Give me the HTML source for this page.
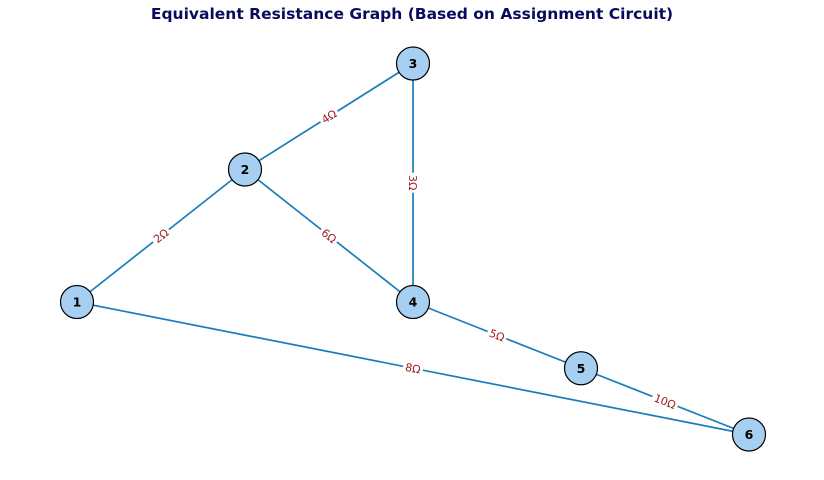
<!DOCTYPE html>
<html><head><meta charset="utf-8"><style>
body{margin:0;background:#fff;}
svg{display:block;font-family:"DejaVu Sans","Liberation Sans",sans-serif;}
</style></head><body>
<svg id="chart" width="824" height="480">
<text x="412" y="19" text-anchor="middle" font-size="15.5" font-weight="bold" fill="#0b0b5e">Equivalent Resistance Graph (Based on Assignment Circuit)</text>
<g id="edges"></g><g id="labels"></g><g id="nodes"></g>
</svg>
<script>
const nodeIds = ["1","2","3","4","5","6"];
const nodeX = [0,1,2,2,3,4];
const nodeY = [0,1,1.8,0,-0.5,-1];
const edgeFrom = [0,1,1,2,3,4,0];
const edgeTo = [1,2,3,3,4,5,5];
const edgeLabels = ["2Ω","4Ω","6Ω","3Ω","5Ω","10Ω","8Ω"];
const sx = v => 77 + v*168;
const sy = v => 302 - v*132.5;
const NS="http://www.w3.org/2000/svg";
const gE=document.getElementById('edges'),gL=document.getElementById('labels'),gN=document.getElementById('nodes');
for(let i=0;i<edgeFrom.length;i++){
  const a=edgeFrom[i],b=edgeTo[i];
  const x1=sx(nodeX[a]),y1=sy(nodeY[a]),x2=sx(nodeX[b]),y2=sy(nodeY[b]);
  const l=document.createElementNS(NS,'line');
  l.setAttribute('x1',x1);l.setAttribute('y1',y1);l.setAttribute('x2',x2);l.setAttribute('y2',y2);
  l.setAttribute('stroke','#1a7dba');l.setAttribute('stroke-width','1.7');
  
  
  gE.appendChild(l);
  let ang=Math.atan2(y2-y1,x2-x1)*180/Math.PI;
  if(ang>90)ang-=180; if(ang<=-90)ang+=180;
  const mx=(x1+x2)/2,my=(y1+y2)/2;
  const g=document.createElementNS(NS,'g');
  g.setAttribute('transform','translate('+mx+','+my+') rotate('+ang+')');
  
  
  const w=edgeLabels[i].length*7+6;
  const r=document.createElementNS(NS,'rect');
  r.setAttribute('x',-w/2);r.setAttribute('y',-7);r.setAttribute('width',w);r.setAttribute('height',14);r.setAttribute('fill','#fff');
  g.appendChild(r);
  const t=document.createElementNS(NS,'text');
  t.setAttribute('text-anchor','middle');t.setAttribute('dy','4');t.setAttribute('font-size','11');t.setAttribute('fill','#9b1b1b');
  t.textContent=edgeLabels[i];
  g.appendChild(t);
  gL.appendChild(g);
}
for(let i=0;i<nodeIds.length;i++){
  const g=document.createElementNS(NS,'g');
  
  
  const c=document.createElementNS(NS,'circle');
  c.setAttribute('cx',sx(nodeX[i]));c.setAttribute('cy',sy(nodeY[i]));c.setAttribute('r','16.5');
  c.setAttribute('fill','#a6cff2');c.setAttribute('stroke','#000');c.setAttribute('stroke-width','1.2');
  g.appendChild(c);
  const t=document.createElementNS(NS,'text');
  t.setAttribute('x',sx(nodeX[i]));t.setAttribute('y',sy(nodeY[i])+4.5);t.setAttribute('text-anchor','middle');
  t.setAttribute('font-size','12.5');t.setAttribute('font-weight','bold');t.setAttribute('fill','#000');
  t.textContent=nodeIds[i];
  g.appendChild(t);
  gN.appendChild(g);
}
</script>
</body></html>
